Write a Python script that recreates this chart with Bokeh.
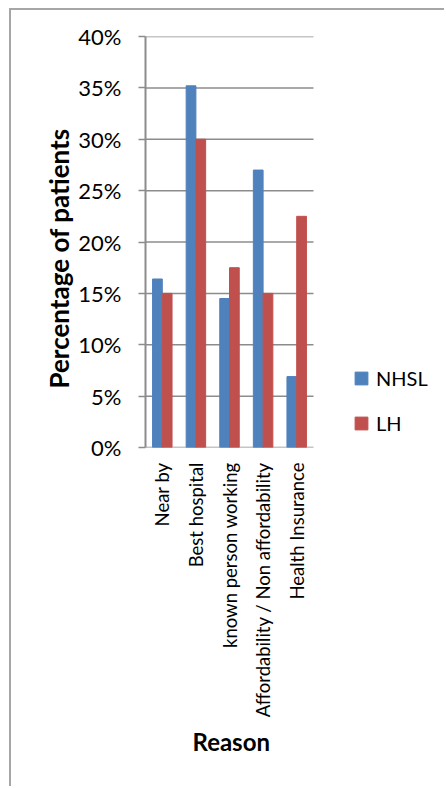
import math
from bokeh.plotting import figure
from bokeh.models import NumeralTickFormatter, Legend, LegendItem, Range1d, FixedTicker, Title
from bokeh.models import ColumnDataSource
from bokeh.embed import file_html
from bokeh.resources import INLINE

categories = ["Near by", "Best hospital", "known person working",
              "Affordability / Non affordability", "Health Insurance"]
nhsl = [0.164, 0.352, 0.145, 0.270, 0.069]
lh = [0.150, 0.300, 0.175, 0.150, 0.225]
series_names = ["NHSL", "LH"]
y_ticks = [0.0, 0.05, 0.10, 0.15, 0.20, 0.25, 0.30, 0.35, 0.40]
x_title = "Reason"
y_title = "Percentage of patients"

# layout (canvas pixels)
W, H = 435, 778
LEFT, TOP, BOTTOM = 134, 26, 341
PLOT_W = 168  # width of the category area
frame_w = W - LEFT
n = len(categories)
x_end = n * frame_w / PLOT_W

pos = [i + 0.5 for i in range(n)]
bw = 0.29
src = ColumnDataSource(dict(x1=[x - bw / 2 for x in pos], x2=[x + bw / 2 for x in pos],
                            nhsl=nhsl, lh=lh))

p = figure(x_range=Range1d(0, x_end), y_range=Range1d(0, 0.4),
           width=W, height=H, output_backend="svg", toolbar_location=None,
           min_border_left=LEFT, min_border_right=0, min_border_top=TOP,
           min_border_bottom=BOTTOM)
p.styles = {"margin-left": "9px", "margin-top": "8px",
            "border-left": "2px solid #a6a6a6", "border-top": "2px solid #a6a6a6"}
p.outline_line_color = None
p.xgrid.grid_line_color = None
p.ygrid.grid_line_color = None

# gridlines across the category area only
p.segment(x0=[0] * len(y_ticks), x1=[n] * len(y_ticks), y0=y_ticks, y1=y_ticks,
          line_color="#8c8c8c", line_width=1.5)

r1 = p.vbar(x="x1", top="nhsl", width=bw, source=src,
            fill_color="#4F81BD", line_color="#4F81BD")
r2 = p.vbar(x="x2", top="lh", width=bw, source=src,
            fill_color="#C0504D", line_color="#C0504D")

font = "Lato"
p.yaxis.ticker = FixedTicker(ticks=y_ticks)
p.yaxis.formatter = NumeralTickFormatter(format="0%")
p.yaxis.axis_line_color = "#8c8c8c"
p.yaxis.axis_line_width = 2
p.yaxis.major_tick_line_color = "#8c8c8c"
p.yaxis.major_tick_line_width = 1.5
p.yaxis.major_tick_out = 7
p.yaxis.major_tick_in = 0
p.yaxis.minor_tick_line_color = None
p.yaxis.major_label_standoff = 17
p.yaxis.major_label_text_font = font
p.yaxis.major_label_text_font_size = "22px"
p.yaxis.major_label_text_color = "#000000"

p.xaxis.ticker = FixedTicker(ticks=pos)
p.xaxis.major_label_overrides = {x: c for x, c in zip(pos, categories)}
p.xaxis.axis_line_color = None
p.xaxis.major_tick_line_color = None
p.xaxis.minor_tick_line_color = None
p.xaxis.major_label_orientation = math.pi / 2
p.xaxis.major_label_standoff = 9
p.xaxis.major_label_text_font = font
p.xaxis.major_label_text_font_size = "18.5px"
p.xaxis.major_label_text_color = "#000000"

# axis titles as side-panel titles so they can be positioned like the original
yt = Title(text=y_title, align="left", offset=59, text_font=font,
           text_font_style="bold", text_font_size="26px", text_color="#000000",
           standoff=2)
p.add_layout(yt, "left")
xt = Title(text=x_title, align="left", offset=47, text_font=font,
           text_font_style="bold", text_font_size="24px", text_color="#000000",
           standoff=8)
p.add_layout(xt, "below")

legend = Legend(items=[LegendItem(label=series_names[0], renderers=[r1]),
                       LegendItem(label=series_names[1], renderers=[r2])],
                location=(208, 12), orientation="vertical")
legend.padding = 0
legend.margin = 0
legend.spacing = 21
legend.glyph_width = 16
legend.glyph_height = 16
legend.label_height = 16
legend.label_standoff = 7
legend.label_text_font = font
legend.label_text_font_size = "20px"
legend.label_text_color = "#000000"
legend.border_line_color = None
legend.background_fill_alpha = 0
p.add_layout(legend, "center")

open("out.html", "w").write(file_html(p, INLINE))
